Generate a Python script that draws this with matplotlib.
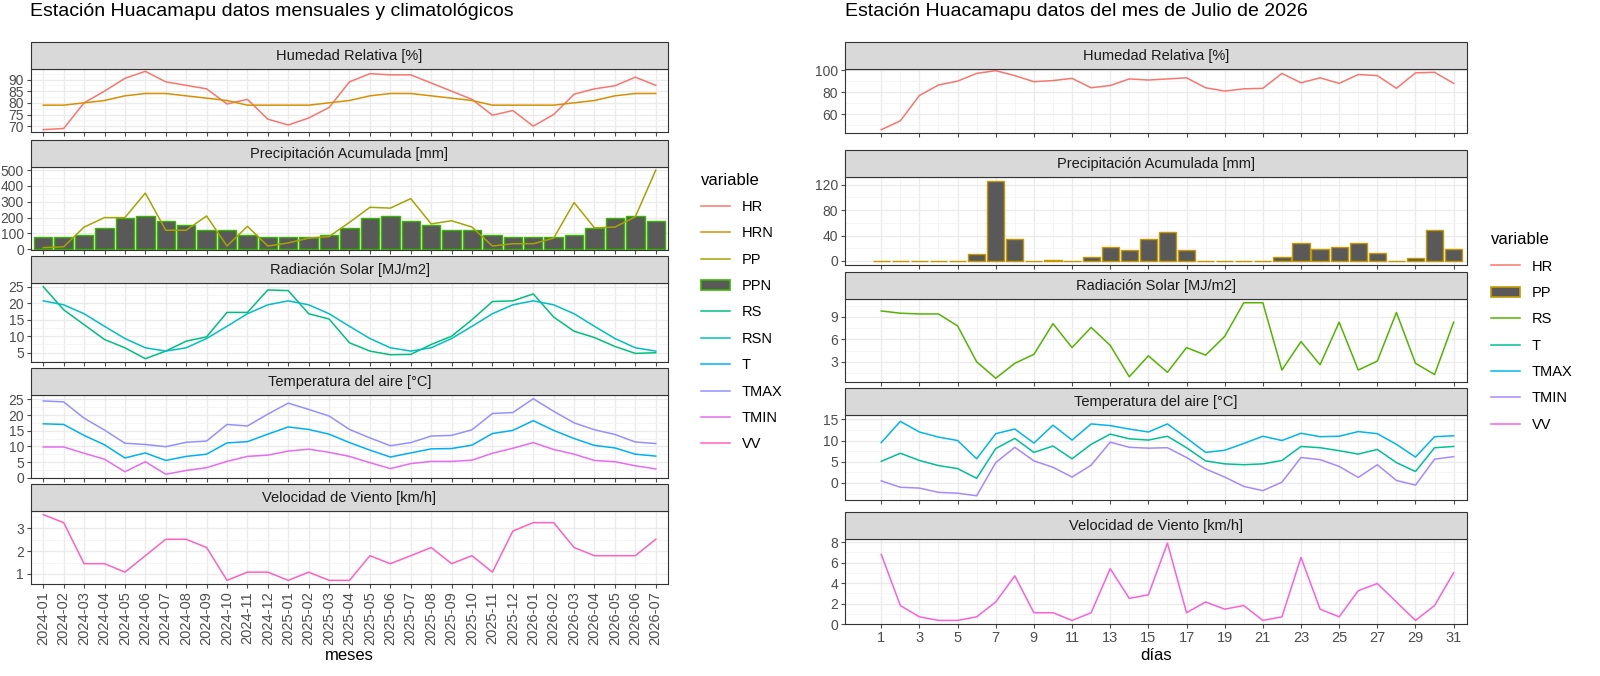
import matplotlib.pyplot as plt
import numpy as np
from matplotlib.lines import Line2D
from matplotlib.patches import Patch, Rectangle

# datos mensuales
meses = ['2024-%02d' % m for m in range(1, 13)] + ['2025-%02d' % m for m in range(1, 13)] + ['2026-%02d' % m for m in range(1, 8)]
hr_m = [68.5, 69, 80, 85, 90.5, 93.5, 89, 87.5, 86, 79.5, 81.5, 73, 70.5, 73.5, 78, 89, 92.5, 92, 92, 88.5, 85, 81.5, 74.7, 76.7, 70, 75, 83.7, 86, 87.3, 91, 87.5]
hrn_m = [79, 79, 80, 81, 83, 84, 84, 83, 82, 81, 79, 79, 79, 79, 80, 81, 83, 84, 84, 83, 82, 81, 79, 79, 79, 79, 80, 81, 83, 84, 84]
pp_m = [10, 15, 140, 200, 200, 355, 120, 120, 210, 20, 145, 20, 40, 70, 80, 170, 265, 260, 320, 160, 180, 140, 20, 35, 35, 70, 295, 135, 140, 205, 500]
ppn_m = [75, 75, 90, 135, 195, 210, 180, 150, 120, 120, 90, 75, 75, 75, 90, 135, 195, 210, 180, 150, 120, 120, 90, 75, 75, 75, 90, 135, 195, 210, 180]
rs_m = [25, 18, 13.5, 9, 6.5, 3.2, 5.5, 8.5, 9.8, 17.2, 17.2, 24, 23.8, 16.8, 15.2, 8, 5.5, 4.4, 4.5, 7.5, 10, 15, 20.5, 20.7, 22.8, 15.8, 11.5, 9.6, 6.9, 4.8, 5]
rsn_m = [20.7, 19.5, 16.8, 13, 9.3, 6.5, 5.5, 6.5, 9.3, 13, 16.8, 19.5, 20.7, 19.5, 16.8, 13, 9.3, 6.5, 5.5, 6.5, 9.3, 13, 16.8, 19.5, 20.7, 19.5, 16.8, 13, 9.3, 6.5, 5.5]
tmax_m = [24.5, 24.2, 19, 15.2, 11, 10.6, 9.9, 11.3, 11.7, 17, 16.5, 20.3, 23.8, 21.8, 19.7, 15.4, 12.7, 10.2, 11.2, 13.3, 13.5, 15.3, 20.5, 20.8, 25.2, 21.2, 17.5, 15.3, 13.8, 11.4, 10.9]
t_m = [17.2, 17, 13.5, 10.5, 6.3, 7.9, 5.5, 6.8, 7.5, 11.1, 11.5, 13.9, 16.2, 15.4, 13.9, 11.2, 8.8, 6.6, 7.9, 9.2, 9.3, 10.4, 14.1, 15.1, 18.2, 15.1, 12.5, 10.3, 9.5, 7.5, 6.9]
tmin_m = [9.8, 9.8, 7.8, 5.9, 1.9, 5.1, 1.1, 2.3, 3.2, 5.2, 6.8, 7.2, 8.5, 9.1, 8.1, 6.8, 4.8, 2.9, 4.5, 5.2, 5.2, 5.6, 7.8, 9.4, 11.2, 9, 7.5, 5.5, 5.1, 3.8, 2.8]
vv_m = [3.6, 3.25, 1.45, 1.45, 1.08, 1.8, 2.52, 2.52, 2.16, 0.72, 1.08, 1.08, 0.72, 1.08, 0.72, 0.72, 1.8, 1.45, 1.8, 2.16, 1.45, 1.8, 1.08, 2.88, 3.25, 3.25, 2.16, 1.8, 1.8, 1.8, 2.52]

# datos diarios julio
dias = list(range(1, 32))
hr_d = [46, 54, 77, 86.5, 90, 97, 99.5, 95, 89.5, 90.5, 92.5, 84, 86, 92, 91, 92, 93, 84, 81, 83, 83.5, 97, 88.5, 93, 88, 96, 95, 83.5, 97.5, 98, 88]
pp_d = [0, 0, 0, 0, 0, 11, 126, 34, 0.5, 1, 0, 6, 22, 17, 34, 46, 18, 0, 0, 0, 0, 6, 29, 19, 22, 29, 13, 0, 4, 48, 19]
rs_d = [9.8, 9.5, 9.4, 9.4, 7.8, 3, 0.8, 2.8, 4, 8.1, 4.9, 7.6, 5.2, 1, 3.8, 1.6, 4.9, 3.9, 6.4, 10.9, 10.9, 1.9, 5.7, 2.6, 8.3, 1.9, 3.1, 9.6, 2.8, 1.3, 8.3]
tmax_d = [9.5, 14.5, 12, 10.8, 10, 5.7, 11.6, 12.7, 9.4, 13.6, 10.1, 13.9, 13.5, 12.7, 12, 13.9, 10.6, 7.2, 7.7, 9.3, 11, 10, 11.7, 10.9, 11, 12.1, 11.6, 9.1, 6.1, 10.9, 11.1]
t_d = [5.1, 7, 5.3, 4.1, 3.4, 1.1, 8.1, 10.5, 7.2, 8.7, 5.7, 9.1, 11.5, 10.4, 10.1, 11, 8.3, 5.2, 4.5, 4.3, 4.5, 5.3, 8.6, 8.3, 7.6, 6.8, 7.9, 4.8, 2.7, 8.3, 8.6]
tmin_d = [0.5, -1, -1.2, -2.2, -2.4, -3, 4.8, 8.4, 5.2, 3.7, 1.4, 4.2, 9.6, 8.4, 8.2, 8.3, 6, 3.3, 1.4, -0.8, -1.8, 0.2, 6, 5.5, 3.9, 1.3, 4.3, 0.6, -0.5, 5.6, 6.2]
vv_d = [6.8, 1.8, 0.7, 0.35, 0.35, 0.7, 2.15, 4.7, 1.1, 1.1, 0.35, 1.1, 5.4, 2.5, 2.85, 7.9, 1.1, 2.15, 1.45, 1.8, 0.35, 0.7, 6.5, 1.45, 0.7, 3.25, 3.95, 2.15, 0.35, 1.8, 5]

W, H = 1600, 676
fig = plt.figure(figsize=(16, 6.76), dpi=100)
plt.rcParams['font.family'] = ['Liberation Sans', 'DejaVu Sans']

def panel(x0, x1, y0, y1, titulo):
    # strip gris arriba del panel
    ax = fig.add_axes([x0 / W, 1 - y1 / H, (x1 - x0) / W, (y1 - y0 - 27) / H])
    ax.set_facecolor('white')
    for s in ax.spines.values():
        s.set_color('#333333')
        s.set_linewidth(0.8)
    fig.patches.append(Rectangle((x0 / W, 1 - (y0 + 27) / H), (x1 - x0) / W, 27 / H,
                                 transform=fig.transFigure, facecolor='#d9d9d9',
                                 edgecolor='#333333', linewidth=0.8))
    fig.text((x0 + x1) / 2 / W, 1 - (y0 + 14) / H, titulo, ha='center', va='center',
             fontsize=10.5, color='#1a1a1a')
    ax.grid(True, which='major', color='#ebebeb', linewidth=1.0)
    ax.grid(True, which='minor', color='#f4f4f4', linewidth=0.6)
    ax.set_axisbelow(True)
    ax.tick_params(axis='both', which='major', labelsize=10, colors='#4d4d4d', length=3, pad=2)
    ax.tick_params(axis='both', which='minor', length=0)
    return ax

def yaxis(ax, lim, ticks):
    ax.set_ylim(*lim)
    ax.set_yticks(ticks)
    minor = [(a + b) / 2 for a, b in zip(ticks[:-1], ticks[1:])]
    step = ticks[1] - ticks[0]
    minor = [ticks[0] - step / 2] + minor + [ticks[-1] + step / 2]
    ax.set_yticks(minor, minor=True)
    ax.set_ylim(*lim)

# ---------- izquierda ----------
xm = np.arange(len(meses))
L0, L1 = 31, 668
lb = [(42, 132), (140, 250), (256, 362), (368, 478), (484, 584)]
axs = []
titulos_l = ['Humedad Relativa [%]', 'Precipitación Acumulada [mm]', 'Radiación Solar [MJ/m2]',
             'Temperatura del aire [°C]', 'Velocidad de Viento [km/h]']
for (y0, y1), tt in zip(lb, titulos_l):
    a = panel(L0, L1, y0, y1, tt)
    a.set_xlim(-0.6, len(meses) - 0.4)
    a.set_xticks(xm)
    a.set_xticklabels([])
    axs.append(a)

c = {'HR': '#F8766D', 'HRN': '#D89000', 'PP': '#A3A500', 'PPN': '#39B600', 'RS': '#00BF7D',
     'RSN': '#00BFC4', 'T': '#00B0F6', 'TMAX': '#9590FF', 'TMIN': '#E76BF3', 'VV': '#FF62BC'}
axs[0].plot(xm, hr_m, color=c['HR'], lw=1.1)
axs[0].plot(xm, hrn_m, color=c['HRN'], lw=1.1)
yaxis(axs[0], (67.5, 94.5), [70, 75, 80, 85, 90])
axs[1].bar(xm, ppn_m, width=0.9, color='#595959', edgecolor=c['PPN'], linewidth=1.0)
axs[1].plot(xm, pp_m, color=c['PP'], lw=1.1)
yaxis(axs[1], (-5, 520), [0, 100, 200, 300, 400, 500])
axs[2].plot(xm, rs_m, color=c['RS'], lw=1.1)
axs[2].plot(xm, rsn_m, color=c['RSN'], lw=1.1)
yaxis(axs[2], (2.2, 26.1), [5, 10, 15, 20, 25])
axs[3].plot(xm, t_m, color=c['T'], lw=1.1)
axs[3].plot(xm, tmax_m, color=c['TMAX'], lw=1.1)
axs[3].plot(xm, tmin_m, color=c['TMIN'], lw=1.1)
yaxis(axs[3], (-0.1, 26.4), [0, 5, 10, 15, 20, 25])
axs[4].plot(xm, vv_m, color=c['VV'], lw=1.1)
yaxis(axs[4], (0.56, 3.76), [1, 2, 3])
axs[4].set_xticklabels(meses, rotation=90, fontsize=10.5)
axs[4].set_xlabel('meses', fontsize=12, color='black', labelpad=2)
fig.text(30 / W, 1 - 12 / H, 'Estación Huacamapu datos mensuales y climatológicos', fontsize=14,
         va='center', ha='left')

hl = []
for k in c:
    if k == 'PPN':
        hl.append(Patch(facecolor='#595959', edgecolor=c[k], linewidth=1.2))
    else:
        hl.append(Line2D([], [], color=c[k], lw=1.1))
fig.legend(hl, list(c.keys()), loc='center left', bbox_to_anchor=(688 / W, 1 - 312 / H),
           frameon=False, title='variable', title_fontsize=12, fontsize=10.5,
           alignment='left', labelspacing=0.85, handlelength=2.0)

# ---------- derecha ----------
R0, R1 = 845, 1467
rb = [(42, 133), (150, 265), (272, 382), (388, 500), (512, 624)]
axd = []
for (y0, y1), tt in zip(rb, titulos_l):
    a = panel(R0, R1, y0, y1, tt)
    a.set_xlim(-0.9, 31.7)
    a.set_xticks(dias[::2])
    a.set_xticks(dias, minor=True)
    a.set_xticklabels([])
    axd.append(a)

cd = {'HR': '#F8766D', 'PP': '#C49A00', 'RS': '#53B400', 'T': '#00C094', 'TMAX': '#00B6EB',
      'TMIN': '#A58AFF', 'VV': '#FB61D7'}
axd[0].plot(dias, hr_d, color=cd['HR'], lw=1.1)
yaxis(axd[0], (43, 101), [60, 80, 100])
axd[1].bar(dias, pp_d, width=0.9, color='#595959', edgecolor=cd['PP'], linewidth=1.0)
yaxis(axd[1], (-6.3, 132), [0, 40, 80, 120])
axd[2].plot(dias, rs_d, color=cd['RS'], lw=1.1)
yaxis(axd[2], (0.3, 11.4), [3, 6, 9])
axd[3].plot(dias, t_d, color=cd['T'], lw=1.1)
axd[3].plot(dias, tmax_d, color=cd['TMAX'], lw=1.1)
axd[3].plot(dias, tmin_d, color=cd['TMIN'], lw=1.1)
yaxis(axd[3], (-4.0, 16.0), [0, 5, 10, 15])
axd[4].plot(dias, vv_d, color=cd['VV'], lw=1.1)
yaxis(axd[4], (0, 8.3), [0, 2, 4, 6, 8])
axd[4].set_xticklabels([str(d) for d in dias[::2]], fontsize=10.5)
axd[4].set_xlabel('días', fontsize=12, color='black', labelpad=2)
fig.text(845 / W, 1 - 12 / H, 'Estación Huacamapu datos del mes de Julio de 2026', fontsize=14,
         va='center', ha='left')

hd = []
for k in cd:
    if k == 'PP':
        hd.append(Patch(facecolor='#595959', edgecolor=cd[k], linewidth=1.2))
    else:
        hd.append(Line2D([], [], color=cd[k], lw=1.1))
fig.legend(hd, list(cd.keys()), loc='center left', bbox_to_anchor=(1478 / W, 1 - 332 / H),
           frameon=False, title='variable', title_fontsize=12, fontsize=10.5,
           alignment='left', labelspacing=0.85, handlelength=2.0)

fig.savefig('out.png', dpi=100)
